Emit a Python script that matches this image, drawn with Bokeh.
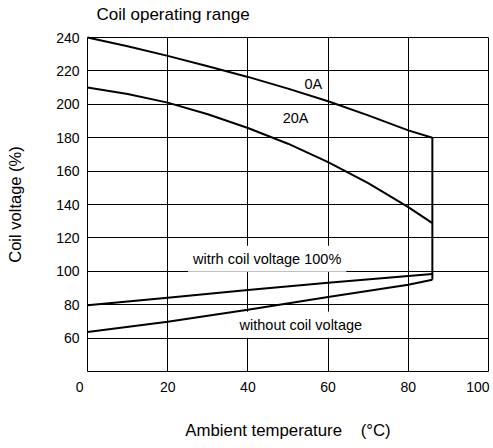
from bokeh.plotting import figure
from bokeh.models import FixedTicker, Label, Title
from bokeh.embed import file_html
from bokeh.resources import INLINE

# ---- data ----
temp_0a = [0, 10, 20, 30, 40, 50, 60, 70, 80, 86]
volt_0a = [240, 234.8, 229, 222.8, 216.4, 209.4, 201.8, 193.4, 184.4, 180]

temp_20a = [0, 10, 20, 30, 40, 50, 60, 70, 80, 86]
volt_20a = [210, 206.2, 201, 194, 185.8, 176.4, 165.4, 152.8, 138.4, 128.8]

temp_with = [0, 20, 40, 60, 80, 86]
volt_with = [79.6, 84.2, 88.8, 93.2, 97.2, 98.4]

temp_without = [0, 20, 40, 60, 80, 86]
volt_without = [63.6, 69.8, 77, 84.6, 92, 95]

limit_temp = [86, 86]
limit_volt = [180, 95]

x_ticks = [0, 20, 40, 60, 80, 100]
x_tick_labels = ["0", "20", "40", "60", "80", "100"]
x_grid = [20, 40, 60, 80]
y_ticks = [60, 80, 100, 120, 140, 160, 180, 200, 220, 240]
y_grid = [60, 80, 100, 120, 140, 160, 180, 200, 220]

note_text = ["0A", "20A", "witrh coil voltage 100%", "without coil voltage"]
note_x = [56.3, 51.9, 44.8, 53.2]
note_y = [212.1, 191.9, 107.5, 68]
note_boxed = [False, False, True, True]

title_text = "Coil operating range"
x_title = "Ambient temperature"
x_unit = "(°C)"
y_title = "Coil voltage (%)"

X_START, X_END = 0, 100
Y_START, Y_END = 40, 240

# ---- styling ----
FONT = "Liberation Sans"
NBSP = "\u00a0"
# trailing padding shifts the end labels left, as in the reference
x_label_pad = [4, 0, 0, 0, 0, 1]

p = figure(width=493, height=448,
           x_range=(X_START, X_END), y_range=(Y_START, Y_END),
           output_backend="svg", toolbar_location=None,
           min_border_left=87, min_border_right=5,
           min_border_top=37, min_border_bottom=77,
           background_fill_color="white", border_fill_color="white")
p.title.text = ""

# spacer between frame and title, then the title itself (outermost)
p.add_layout(Title(text=NBSP, text_font_size="1px", standoff=6), "above")
p.add_layout(Title(text=title_text, text_font=FONT, text_font_size="17px",
                   text_font_style="normal", text_color="black",
                   align="left", vertical_align="top", offset=9, standoff=6),
             "above")

p.outline_line_color = "black"
p.outline_line_width = 1

# axes
for ax in (p.xaxis[0], p.yaxis[0]):
    ax.axis_line_color = None
    ax.major_tick_line_color = None
    ax.minor_tick_line_color = None
    ax.major_tick_out = 0
    ax.major_tick_in = 0
    ax.major_label_text_font = FONT
    ax.major_label_text_font_size = "14px"
    ax.major_label_text_color = "black"
    ax.axis_label_text_font = FONT
    ax.axis_label_text_font_style = "normal"
    ax.axis_label_text_color = "black"

p.yaxis.ticker = FixedTicker(ticks=y_ticks)
p.yaxis.major_label_standoff = 8
p.yaxis.axis_label = y_title
p.yaxis.axis_label_text_font_size = "16.5px"
p.yaxis.axis_label_standoff = 29

p.xaxis.ticker = FixedTicker(ticks=x_ticks)
p.xaxis.major_label_overrides = {
    t: lab + NBSP * pad for t, lab, pad in zip(x_ticks, x_tick_labels, x_label_pad)
}
p.xaxis.major_label_standoff = 7
p.xaxis.axis_label = x_title + " " + NBSP * 3 + x_unit
p.xaxis.axis_label_text_font_size = "16.8px"
p.xaxis.axis_label_standoff = 23

p.xgrid.ticker = FixedTicker(ticks=x_grid)
p.ygrid.ticker = FixedTicker(ticks=y_grid)
for g in (p.xgrid[0], p.ygrid[0]):
    g.grid_line_color = "black"
    g.grid_line_width = 1
    g.grid_line_alpha = 1

# curves
for tx, vy in ((temp_0a, volt_0a), (temp_20a, volt_20a),
               (temp_with, volt_with), (temp_without, volt_without),
               (limit_temp, limit_volt)):
    p.line(tx, vy, line_color="black", line_width=2, level="overlay")

# notes
for t, x, y, boxed in zip(note_text, note_x, note_y, note_boxed):
    kw = dict(background_fill_color="white", padding=5) if boxed else {}
    p.add_layout(Label(x=x, y=y, text=t, text_align="center",
                       text_baseline="middle", text_font=FONT,
                       text_font_size="14.5px", text_color="black", **kw))

open("out.html", "w").write(file_html(p, INLINE))
